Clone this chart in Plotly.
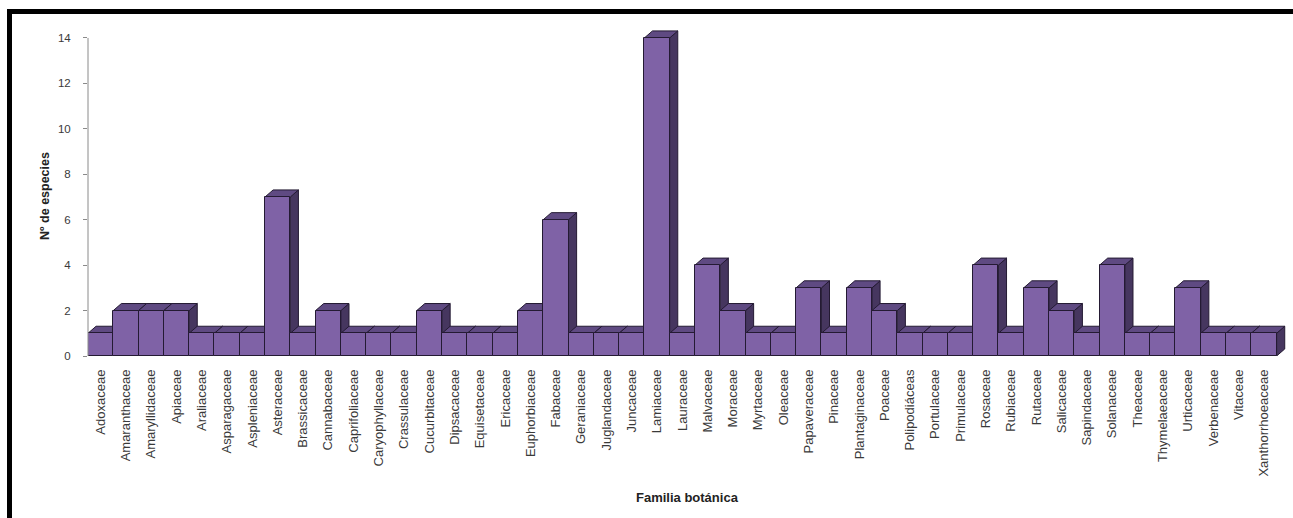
import plotly.graph_objects as go

families = ["Adoxaceae", "Amaranthaceae", "Amaryllidaceae", "Apiaceae", "Araliaceae",
            "Asparagaceae", "Aspleniaceae", "Asteraceae", "Brassicaceae", "Cannabaceae",
            "Caprifoliaceae", "Caryophyllaceae", "Crassulaceae", "Cucurbitaceae", "Dipsacaceae",
            "Equisetaceae", "Ericaceae", "Euphorbiaceae", "Fabaceae", "Geraniaceae",
            "Juglandaceae", "Juncaceae", "Lamiaceae", "Lauraceae", "Malvaceae",
            "Moraceae", "Myrtaceae", "Oleaceae", "Papaveraceae", "Pinaceae",
            "Plantaginaceae", "Poaceae", "Polipodiáceas", "Portulaceae", "Primulaceae",
            "Rosaceae", "Rubiaceae", "Rutaceae", "Salicaceae", "Sapindaceae",
            "Solanaceae", "Theaceae", "Thymelaeaceae", "Urticaceae", "Verbenaceae",
            "Vitaceae", "Xanthorrhoeaceae"]
species = [1, 2, 2, 2, 1,
           1, 1, 7, 1, 2,
           1, 1, 1, 2, 1,
           1, 1, 2, 6, 1,
           1, 1, 14, 1, 4,
           2, 1, 1, 3, 1,
           3, 2, 1, 1, 1,
           4, 1, 3, 2, 1,
           4, 1, 1, 3, 1,
           1, 1]
y_ticks = [0, 2, 4, 6, 8, 10, 12, 14]

FRONT = "#7f62a6"
TOP = "#5f4a82"
SIDE = "#46365f"
EDGE = "#241a33"
DX, DY = 0.32, 0.31   # oblique depth of the 3-D bars (category units, value units)

fig = go.Figure()
fig.add_trace(go.Bar(
    x=list(range(len(families))), y=species,
    marker=dict(color=FRONT, line=dict(color=EDGE, width=1)),
    width=1.0, showlegend=False,
    hovertext=families, hoverinfo="text+y",
))

shapes = []
# depth faces (drawn below the front faces)
for i, v in enumerate(species):
    x0, x1 = i - 0.5, i + 0.5
    side = (f"M {x1},0 L {x1+DX},{DY} L {x1+DX},{v+DY} L {x1},{v} Z")
    top = (f"M {x0},{v} L {x1},{v} L {x1+DX},{v+DY} L {x0+DX},{v+DY} Z")
    shapes.append(dict(type="path", path=side, xref="x", yref="y", layer="below",
                       fillcolor=SIDE, line=dict(color=EDGE, width=1)))
    shapes.append(dict(type="path", path=top, xref="x", yref="y", layer="below",
                       fillcolor=TOP, line=dict(color=EDGE, width=1)))

# value axis line (0 .. 14)
shapes.append(dict(type="line", xref="paper", yref="y", x0=0, x1=0, y0=0, y1=max(y_ticks),
                   line=dict(color="#8a8a8a", width=1)))

# black frame of the picture (top and left edge)
W, H = 1293, 518
ml, mr, mt, mb = 88, 7, 30, 162
pw, ph = W - ml - mr, H - mt - mb
def px(xp): return (xp - ml) / pw
def py(yp): return (H - mb - yp) / ph
shapes.append(dict(type="rect", xref="paper", yref="paper", x0=px(7), x1=px(W + 2),
                   y0=py(14), y1=py(9), fillcolor="black", line=dict(width=0), layer="above"))
shapes.append(dict(type="rect", xref="paper", yref="paper", x0=px(7), x1=px(12),
                   y0=py(H + 2), y1=py(9), fillcolor="black", line=dict(width=0), layer="above"))

fig.update_layout(
    width=W, height=H,
    margin=dict(l=ml, r=mr, t=mt, b=mb),
    paper_bgcolor="white", plot_bgcolor="white",
    font=dict(family="Liberation Sans, Arial, sans-serif", color="#333333"),
    bargap=0,
    shapes=shapes,
    xaxis=dict(
        range=[-0.5, len(families) - 0.5 + DX + 0.05],
        tickmode="array", tickvals=list(range(len(families))), ticktext=families,
        tickangle=-90, tickfont=dict(size=13, color="#3a3a3a"),
        showgrid=False, zeroline=False, showline=False, ticks="",
        ticklabelstandoff=10, fixedrange=True,
    ),
    yaxis=dict(
        range=[0, 14.35],
        tickmode="array", tickvals=y_ticks, ticktext=[str(t) for t in y_ticks],
        tickfont=dict(size=11.5, color="#3a3a3a"),
        showgrid=False, zeroline=False, showline=False,
        ticks="outside", ticklen=4, tickcolor="#8a8a8a",
        ticklabelstandoff=10, fixedrange=True,
    ),
    annotations=[
        dict(text="<b>Familia botánica</b>", xref="paper", yref="paper", x=0.5, y=0,
             yshift=-(497 - (H - mb)), showarrow=False, font=dict(size=13, color="#222222"),
             xanchor="center", yanchor="middle"),
        dict(text="<b>Nº de especies</b>", xref="paper", yref="paper", x=0, y=(356 - 196) / ph,
             xshift=-(88 - 45), showarrow=False, textangle=-90,
             font=dict(size=12.5, color="#222222"), xanchor="center", yanchor="middle"),
    ],
)

fig.write_html("out.html")
